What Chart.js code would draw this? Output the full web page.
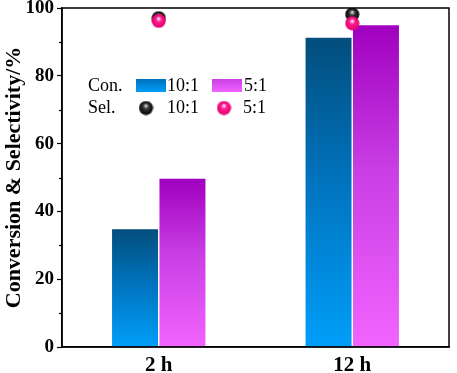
<!DOCTYPE html>
<html>
<head>
<meta charset="utf-8">
<script src="https://cdn.jsdelivr.net/npm/chart.js@4/dist/chart.umd.min.js"></script>
<style>
  html, body { margin: 0; padding: 0; background: #fff; }
  #wrap { width: 457px; height: 373px; }
</style>
</head>
<body>
<div id="wrap"><canvas id="c" width="457" height="373"></canvas></div>
<script>
// ---- data ----
const categories = ['2 h', '12 h'];
const conv10 = [34.7, 91.2];   // Con. 10:1
const conv5  = [49.6, 94.9];   // Con. 5:1
const sel10  = [97.0, 98.1];   // Sel. 10:1
const sel5   = [96.2, 95.5];   // Sel. 5:1
const yMajor = [0, 20, 40, 60, 80, 100];

const FONT = "'Liberation Serif', 'Times New Roman', serif";

// bar colours (top -> bottom)
const blueStops   = ['#034e7c', '#0072bc', '#009ef9'];
const purpleStops = ['#a000bf', '#c93fe4', '#f264ff'];

function sphere(base, mid, hi) {
  const cv = document.createElement('canvas');
  cv.width = 15; cv.height = 15;
  const g = cv.getContext('2d');
  const grad = g.createRadialGradient(7.5, 5, 0.3, 7.5, 7.5, 7.5);
  grad.addColorStop(0, hi);
  grad.addColorStop(0.35, mid);
  grad.addColorStop(1, base);
  g.fillStyle = grad;
  g.beginPath(); g.arc(7.5, 7.5, 7, 0, Math.PI * 2); g.fill();
  return cv;
}
const blackBall = sphere('#000000', '#333333', '#e0e0e0');
const pinkBall  = sphere('#e0006c', '#ff1a8e', '#ffffff');

function barFill(stops) {
  return (ctx) => {
    const chart = ctx.chart;
    if (!chart.chartArea || ctx.raw == null) return stops[1];
    const y = chart.scales.y;
    const top = y.getPixelForValue(ctx.raw);
    const bot = y.getPixelForValue(0);
    const g = chart.ctx.createLinearGradient(0, top, 0, bot);
    g.addColorStop(0, stops[0]);
    g.addColorStop(0.45, stops[1]);
    g.addColorStop(1, stops[2]);
    return g;
  };
}

// frame, minor ticks and the two-row legend
const extras = {
  id: 'extras',
  afterDatasetsDraw(chart) {
    const { ctx, chartArea: a } = chart;
    const y = chart.scales.y;
    ctx.save();
    ctx.strokeStyle = '#000';
    ctx.lineWidth = 1.5;
    ctx.strokeRect(a.left, a.top, a.right - a.left, a.bottom - a.top);
    // minor ticks
    ctx.lineWidth = 1.2;
    for (let v = 10; v < 100; v += 20) {
      const py = Math.round(y.getPixelForValue(v)) + 0.5;
      ctx.beginPath(); ctx.moveTo(a.left - 3, py); ctx.lineTo(a.left, py); ctx.stroke();
    }
    // legend
    ctx.fillStyle = '#000';
    ctx.font = '18px ' + FONT;
    ctx.textBaseline = 'middle';
    ctx.fillText('Con.', 88, 86);
    ctx.fillText('Sel.', 88, 108);
    const rect = (x, stops) => {
      const g = ctx.createLinearGradient(0, 79, 0, 92);
      g.addColorStop(0, stops[1]);
      g.addColorStop(1, stops[2]);
      ctx.fillStyle = g;
      ctx.fillRect(x, 79, 30, 13);
    };
    rect(136, blueStops);
    rect(212, purpleStops);
    ctx.fillStyle = '#000';
    ctx.fillText('10:1', 167, 86);
    ctx.fillText('5:1', 244, 86);
    ctx.drawImage(blackBall, 146 - 7.5, 108 - 7.5);
    ctx.drawImage(pinkBall, 224 - 7.5, 108 - 7.5);
    ctx.fillText('10:1', 167, 108);
    ctx.fillText('5:1', 243, 108);
    ctx.restore();
  }
};

new Chart(document.getElementById('c'), {
  type: 'bar',
  data: {
    labels: categories,
    datasets: [
      { type: 'line', label: 'Sel. 5:1', data: sel5, showLine: false,
        pointStyle: pinkBall, pointRadius: 7, order: 0 },
      { type: 'line', label: 'Sel. 10:1', data: sel10, showLine: false,
        pointStyle: blackBall, pointRadius: 7, order: 1 },
      { label: 'Con. 10:1', data: conv10, backgroundColor: barFill(blueStops),
        borderWidth: 0, order: 2, categoryPercentage: 0.49, barPercentage: 0.97 },
      { label: 'Con. 5:1', data: conv5, backgroundColor: barFill(purpleStops),
        borderWidth: 0, order: 2, categoryPercentage: 0.49, barPercentage: 0.97 }
    ]
  },
  options: {
    responsive: false,
    animation: false,
    layout: { padding: { left: 0, right: 4, top: 8, bottom: 0 } },
    plugins: { legend: { display: false }, tooltip: { enabled: false } },
    scales: {
      x: {
        grid: { display: false, drawTicks: false },
        border: { display: true, color: '#000', width: 1.5 },
        ticks: { color: '#000', padding: 6, font: { family: FONT, size: 21, weight: 'bold' } },
        afterFit(s) { s.height = 26; }
      },
      y: {
        min: 0, max: 100,
        afterBuildTicks(s) { s.ticks = yMajor.map(v => ({ value: v })); },
        grid: { drawOnChartArea: false, tickLength: 5, tickColor: '#000', tickWidth: 1.2 },
        border: { display: true, color: '#000', width: 1.5 },
        ticks: { color: '#000', padding: 3, font: { family: FONT, size: 19, weight: 'bold' } },
        title: { display: true, text: 'Conversion & Selectivity/%', color: '#000',
                 padding: { top: 1, bottom: 0 },
                 font: { family: FONT, size: 22, weight: 'bold' } },
        afterFit(s) { s.width = 62; s.paddingTop = 0; s.paddingBottom = 0; }
      }
    }
  },
  plugins: [extras]
});
</script>
</body>
</html>
